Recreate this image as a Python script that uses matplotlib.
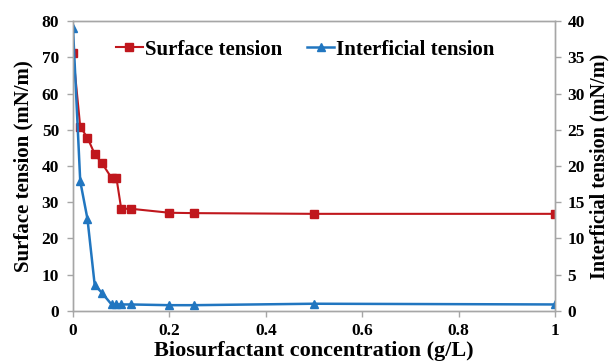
import matplotlib.pyplot as plt

plt.rcParams['font.family'] = ['Liberation Serif', 'DejaVu Serif']
plt.rcParams['font.weight'] = 'bold'

# concentrations (g/L)
conc = [0, 0.015, 0.03, 0.045, 0.06, 0.08, 0.09, 0.1, 0.12, 0.2, 0.25, 0.5, 1.0]
# surface tension (mN/m), left axis
surface = [71.2, 50.8, 47.8, 43.3, 40.8, 36.7, 36.8, 28.2, 28.2, 27.1, 27.0, 26.8, 26.8]
# interfacial tension (mN/m), right axis
interf = [39.0, 17.9, 12.7, 3.6, 2.5, 0.9, 0.9, 0.9, 0.9, 0.8, 0.8, 1.0, 0.9]

red = '#C0171D'
blue = '#2176C0'
grey = '#A6A6A6'

fig = plt.figure(figsize=(6.14, 3.63), dpi=100)
ax = fig.add_axes([0.1189, 0.1433, 0.785, 0.7988])
ax2 = ax.twinx()

l1, = ax.plot(conc, surface, color=red, marker='s', markersize=6, lw=1.5,
              label='Surface tension')
l2, = ax2.plot(conc, interf, color=blue, marker='^', markersize=6, lw=1.8,
               label='Interficial tension')

ax.set_xlim(0, 1)
ax.set_ylim(0, 80)
ax2.set_ylim(0, 40)
ax.set_xticks([0, 0.2, 0.4, 0.6, 0.8, 1.0])
ax.set_xticklabels(['0', '0.2', '0.4', '0.6', '0.8', '1'])
ax.set_yticks(range(0, 81, 10))
ax2.set_yticks(range(0, 41, 5))

for a in (ax, ax2):
    for s in a.spines.values():
        s.set_color(grey)
        s.set_linewidth(1)
    a.tick_params(colors=grey, labelcolor='black', labelsize=12.5, length=4, width=1)
ax.tick_params(axis='x', pad=5)
ax.tick_params(axis='y', pad=6)
ax2.tick_params(axis='y', pad=5)

ax.set_xlabel('Biosurfactant concentration (g/L)', fontsize=16, fontweight='bold', labelpad=1)
ax.set_ylabel('Surface tension (mN/m)', fontsize=15, fontweight='bold', labelpad=6)
ax2.set_ylabel('Interficial tension (mN/m)', fontsize=14.5, fontweight='bold', labelpad=3)

ax.legend(handles=[l1, l2], loc='upper left', bbox_to_anchor=(0.05, 1.0), ncol=2,
          frameon=False, fontsize=15, handlelength=1.3, handletextpad=0.1,
          columnspacing=1.2, markerscale=0.9)

fig.savefig('out.png', dpi=100)
